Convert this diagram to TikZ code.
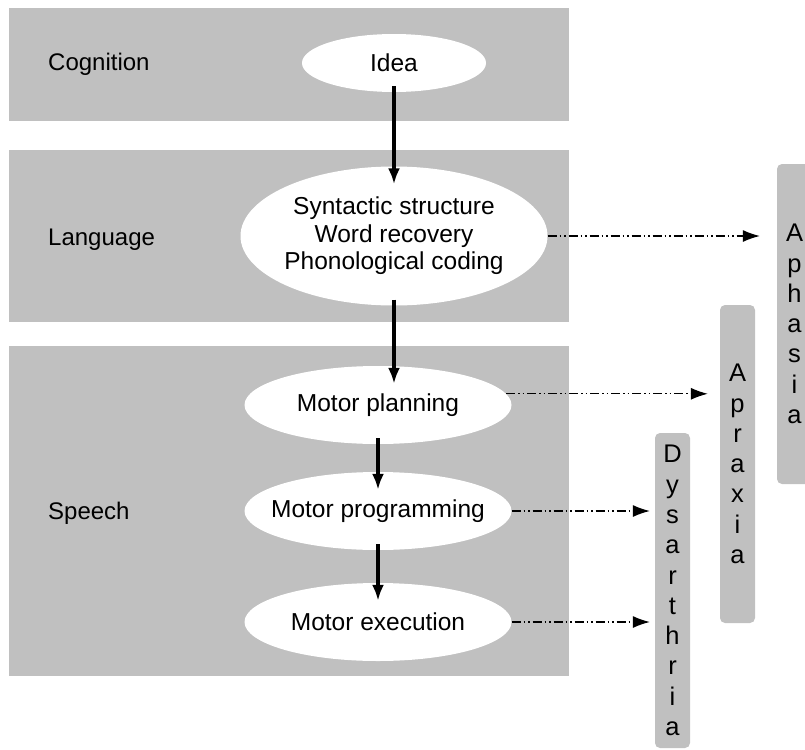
\documentclass[tikz,border=0pt]{standalone}
\usepackage{fontspec}
\setmainfont{Liberation Sans}
\usetikzlibrary{shapes.geometric,arrows.meta}
\definecolor{gray}{RGB}{192,192,192}
\definecolor{black}{RGB}{0,0,0}

\begin{document}
\begin{tikzpicture}[x=1pt,y=-1pt,
	band/.style={fill=gray},
	level/.style={anchor=base west,inner sep=0pt,font=\fontsize{24}{27.5}\selectfont},
	stage/.style={ellipse,fill=white,inner sep=-15pt,align=center,font=\fontsize{24.5}{27.5}\selectfont},
	disorder/.style={rectangle,rounded corners=5pt,fill=gray,minimum width=35pt,inner sep=0pt,align=center,font=\fontsize{25.5}{30.3}\selectfont},
	flow/.style={black,line width=4pt,-{Latex[length=16pt,width=12pt]},shorten <=-6pt,shorten >=-18pt},
	lapse/.style={black,line width=1.1pt,dash pattern=on 9pt off 3pt on 1.5pt off 3pt on 1.5pt off 3pt,-{Latex[length=17pt,width=12pt]}}]
	\clip (0,0) rectangle (805,749);

	\fill[band] (9,8) rectangle (569,121);
	\fill[band] (9,150) rectangle (569,322);
	\fill[band] (9,346) rectangle (569,676);

	\node[level] (cognition) at (48,71) {Cognition};
	\node[level] (language) at (48,245) {Language};
	\node[level] (speech) at (48,519) {Speech};

	\node[stage,minimum width=184pt,minimum height=58pt] (idea) at (394,63) {Idea};
	\node[stage,minimum width=307pt,minimum height=139pt] (lang) at (394,236) {Syntactic structure\\Word recovery\\Phonological coding};
	\node[stage,minimum width=267pt,minimum height=78pt] (plan) at (378,405) {Motor planning};
	\node[stage,minimum width=267pt,minimum height=78pt] (prog) at (378,511) {Motor programming};
	\node[stage,minimum width=267pt,minimum height=78pt] (exec) at (378,622) {Motor execution};

	\node[disorder,minimum height=320pt] (aphasia) at (794.5,324) {A\\p\\h\\a\\s\\i\\a};
	\node[disorder,minimum height=318pt] (apraxia) at (737.5,464) {A\\p\\r\\a\\x\\i\\a};
	\node[disorder,minimum height=315pt] (dysarthria) at (672.5,590.5) {D\\y\\s\\a\\r\\t\\h\\r\\i\\a};

	\foreach \a/\b in {idea/lang,lang/plan,plan/prog,prog/exec}
		\draw[flow] (\a.south) -- (\a.south |- \b.north);

	\foreach \a/\b/\s in {lang.east/aphasia/17,plan.5/apraxia/12,prog.east/dysarthria/5,exec.east/dysarthria/5}
		\draw[lapse,shorten >=\s pt] (\a) -- (\a -| \b.west);
\end{tikzpicture}
\end{document}
